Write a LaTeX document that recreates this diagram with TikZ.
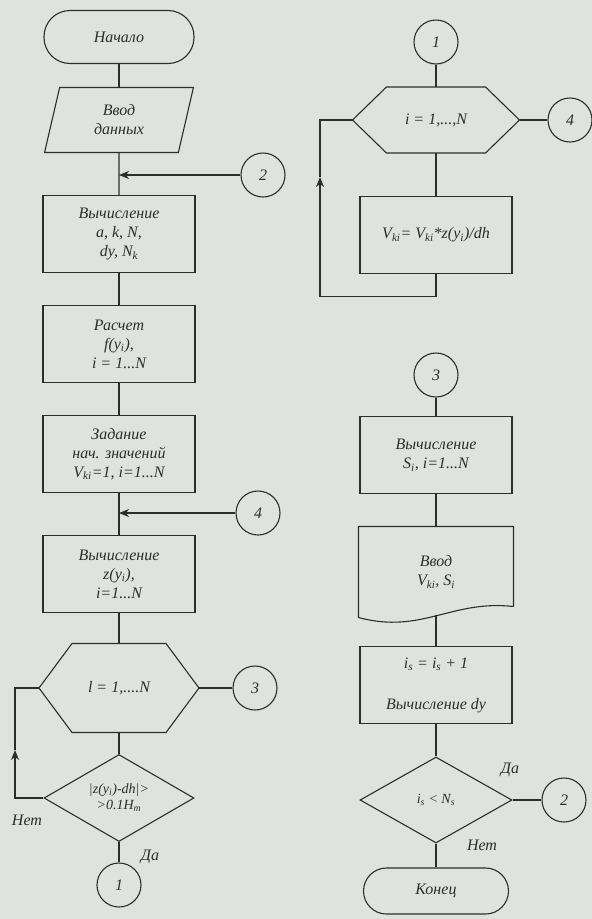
\documentclass[tikz,border=0pt]{standalone}
\usepackage{fontspec}
\setmainfont{Liberation Serif}
\usepackage{tikz}
\usetikzlibrary{shapes,arrows,arrows.meta,positioning,calc}
\definecolor{paper}{RGB}{223,226,223}
\definecolor{ink}{RGB}{45,45,45}

\begin{document}
\begin{tikzpicture}[x=1pt, y=-1pt, line width=1.1pt, draw=ink, text=ink,
    font=\itshape\fontsize{16}{19}\selectfont,
    >={Stealth[length=10pt,width=8pt,inset=3pt]},
    box/.style={draw, rectangle, minimum width=152pt, minimum height=77pt, align=center},
    term/.style={draw, rectangle, rounded corners=26pt, minimum width=150pt, minimum height=53pt},
    io/.style={draw, trapezium, trapezium left angle=79, trapezium right angle=101, trapezium stretches=true, minimum width=150pt, minimum height=65pt, align=center},
    decide/.style={draw, diamond, aspect=1.7, inner sep=0pt, minimum width=150pt, minimum height=87pt, align=center, font=\itshape\fontsize{14}{16}\selectfont},
    conn/.style={draw, circle, minimum size=44pt, inner sep=0pt},
    hexa/.style={rectangle, outer sep=0pt, align=center},
    doc/.style={rectangle, outer sep=0pt, minimum width=155pt, minimum height=91pt, align=center},
    lbl/.style={inner sep=1pt}]
    \useasboundingbox (0,0) rectangle (592,919);
    \fill[paper] (0,0) rectangle (592,919);

    % left column
    \node[term] (start) at (119,37) {Начало};
    \node[io] (input) [below of=start, node distance=83pt] {Ввод\\данных};
    \node[box] (calc) [below of=input, node distance=114pt] {Вычисление\\a, k, N,\\dy, N\textsubscript{k}};
    \node[box] (func) [below of=calc, node distance=110pt] {Расчет\\f(y\textsubscript{i}),\\i = 1...N};
    \node[box] (init) [below of=func, node distance=110pt] {Задание\\нач. значений\\V\textsubscript{ki}=1, i=1...N};
    \node[box] (calcz) [below of=init, node distance=120pt] {Вычисление\\z(y\textsubscript{i}),\\i=1...N};
    \node[hexa, minimum width=160pt, minimum height=89pt] (loopl) [below of=calcz, node distance=114pt] {l = 1,....N};
    \node[decide] (check) [below of=loopl, node distance=110pt] {|z(y\textsubscript{i})-dh|>\\>0.1H\textsubscript{m}};
    \node[conn] (out1) [below of=check, node distance=87pt] {1};
    \node[conn] (in2) at (263,175) {2};
    \node[conn] (in4) at (258,513) {4};
    \node[conn] (out3) [right of=loopl, node distance=136pt] {3};
    \node[lbl] (no1) at (27,820) {Нет};
    \node[lbl] (yes1) at (150,857) {Да};

    % right column
    \node[conn] (in1) at (436,42) {1};
    \node[hexa, minimum width=167pt, minimum height=66pt] (loopi) [below of=in1, node distance=78pt] {i = 1,...,N};
    \node[box] (upd) [below of=loopi, node distance=115pt] {V\textsubscript{ki}= V\textsubscript{ki}*z(y\textsubscript{i})/dh};
    \node[conn] (out4) [right of=loopi, node distance=134pt] {4};
    \node[conn] (in3) at (436,375) {3};
    \node[box] (calcs) [below of=in3, node distance=80pt] {Вычисление\\S\textsubscript{i}, i=1...N};
    \node[doc] (inp) [below of=calcs, node distance=117pt] {Ввод\\V\textsubscript{ki}, S\textsubscript{i}};
    \node[box] (inc) [below of=inp, node distance=113pt] {i\textsubscript{s} = i\textsubscript{s} + 1\\[22pt]Вычисление dy};
    \node[decide, minimum width=152pt, minimum height=86pt] (cond) [below of=inc, node distance=115pt] {i\textsubscript{s} < N\textsubscript{s}};
    \node[conn] (out2) [right of=cond, node distance=128pt] {2};
    \node[term, minimum width=145pt, minimum height=46pt, rounded corners=23pt] (end) [below of=cond, node distance=91pt] {Конец};
    \node[lbl] (yes2) at (510,770) {Да};
    \node[lbl] (no2) at (482,845) {Нет};

    % hexagons and document outline
    \draw (loopl.west) -- ($(loopl.north west)+(33,0)$) -- ($(loopl.north east)+(-33,0)$) -- (loopl.east)
      -- ($(loopl.south east)+(-33,0)$) -- ($(loopl.south west)+(33,0)$) -- cycle;
    \draw (loopi.west) -- ($(loopi.north west)+(34,0)$) -- ($(loopi.north east)+(-34,0)$) -- (loopi.east)
      -- ($(loopi.south east)+(-34,0)$) -- ($(loopi.south west)+(34,0)$) -- cycle;
    \draw ($(inp.south east)+(0,-11)$) -- (inp.north east) -- (inp.north west) -- (inp.south west)
      .. controls ($(inp.south west)+(63,17)$) and ($(inp.south east)+(-62,-18)$) .. ($(inp.south east)+(0,-11)$);

    % connectors, left
    \draw (start) -- (input);
    \draw (input) -- (calc);
    \draw[->] (in2) -- (in2 -| input);
    \draw (calc) -- (func);
    \draw (func) -- (init);
    \draw (init) -- (calcz);
    \draw[->] (in4) -- (in4 -| init);
    \draw (calcz) -- (loopl);
    \draw (loopl) -- (out3);
    \draw (loopl) -- (check);
    \draw (check) -- (out1);
    \coordinate (upl) at (15,750);
    \draw[->] (check.west) -| (upl);
    \draw (upl) |- (loopl.west);

    % connectors, right
    \draw (in1) -- (loopi);
    \draw (loopi) -- (out4);
    \draw (loopi) -- (upd);
    \coordinate (upr) at (320,177);
    \draw[->] (upd.south) -- ++(0,22) -| (upr);
    \draw (upr) |- (loopi.west);
    \draw (in3) -- (calcs);
    \draw (calcs) -- (inp);
    \draw ($(inp.south)+(0,-3)$) -- (inc);
    \draw (inc) -- (cond);
    \draw (cond) -- (out2);
    \draw (cond) -- (end);
\end{tikzpicture}
\end{document}
